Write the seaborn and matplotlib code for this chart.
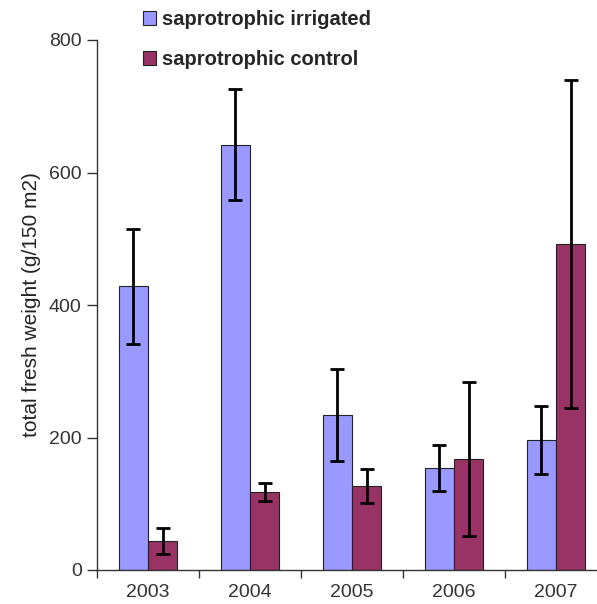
import matplotlib
matplotlib.use("Agg")
import matplotlib.pyplot as plt
import seaborn as sns
import pandas as pd
import numpy as np
from matplotlib.patches import Patch

years = ["2003", "2004", "2005", "2006", "2007"]
irrigated = [428, 642, 234, 154, 196]
irrigated_err = [87, 84, 70, 34, 51]
control = [44, 118, 127, 168, 492]
control_err = [20, 14, 26, 116, 247]
series = ["saprotrophic irrigated", "saprotrophic control"]
colors = ["#9999FF", "#993366"]
yticks = [0, 200, 400, 600, 800]

df = pd.DataFrame({
    "year": years * 2,
    "value": irrigated + control,
    "series": [series[0]] * len(years) + [series[1]] * len(years),
})
errs = {series[0]: irrigated_err, series[1]: control_err}

sns.set_style("white")
plt.rcParams["font.family"] = ["Liberation Sans", "DejaVu Sans"]

fig = plt.figure(figsize=(5.97, 6.04), dpi=100)
ax = fig.add_axes([97 / 597, 34 / 604, 510 / 597, 530 / 604])

sns.barplot(data=df, x="year", y="value", hue="series", order=years,
            hue_order=series, palette=colors, width=0.57, gap=0,
            errorbar=None, edgecolor="#222222", linewidth=0.8,
            saturation=1, ax=ax, legend=False)

for cont, name in zip(ax.containers, series):
    xs = [b.get_x() + b.get_width() / 2 for b in cont]
    hs = [b.get_height() for b in cont]
    ax.errorbar(xs, hs, yerr=errs[name], fmt="none", ecolor="black",
                elinewidth=2, capsize=5, capthick=2, zorder=5)

ax.set_xlim(-0.5, 4.5)
ax.set_ylim(0, 800)
ax.set_yticks(yticks)
ax.set_yticklabels([str(t) for t in yticks])
ax.set_xlabel("")
ax.set_ylabel("total fresh weight (g/150 m2)", fontsize=15, color="#222222", labelpad=6)

for s in ["top", "right"]:
    ax.spines[s].set_visible(False)
for s in ["left", "bottom"]:
    ax.spines[s].set_color("#333333")
    ax.spines[s].set_linewidth(1)

ax.tick_params(axis="y", which="major", left=True, length=7, width=1,
               color="#333333", labelsize=14, labelcolor="#333333", pad=4)
ax.set_xticks(range(len(years)))
ax.set_xticklabels(years)
ax.tick_params(axis="x", which="major", length=0, labelsize=14,
               labelcolor="#333333", pad=10)
ax.set_xticks([i - 0.5 for i in range(len(years) + 1)], minor=True)
ax.tick_params(axis="x", which="minor", bottom=True, length=6, width=1,
               color="#333333", direction="out")

handles = [Patch(facecolor=c, edgecolor="#222222", linewidth=0.8) for c in colors]
fig.legend(handles, series, loc="upper left",
           bbox_to_anchor=(143 / 597, 1 - 10 / 604), frameon=False,
           prop={"size": 14.5, "weight": "bold"}, handlelength=0.65,
           handleheight=0.7, handletextpad=0.3, labelspacing=1.05,
           borderpad=0, borderaxespad=0)

fig.savefig("out.png", dpi=100)
